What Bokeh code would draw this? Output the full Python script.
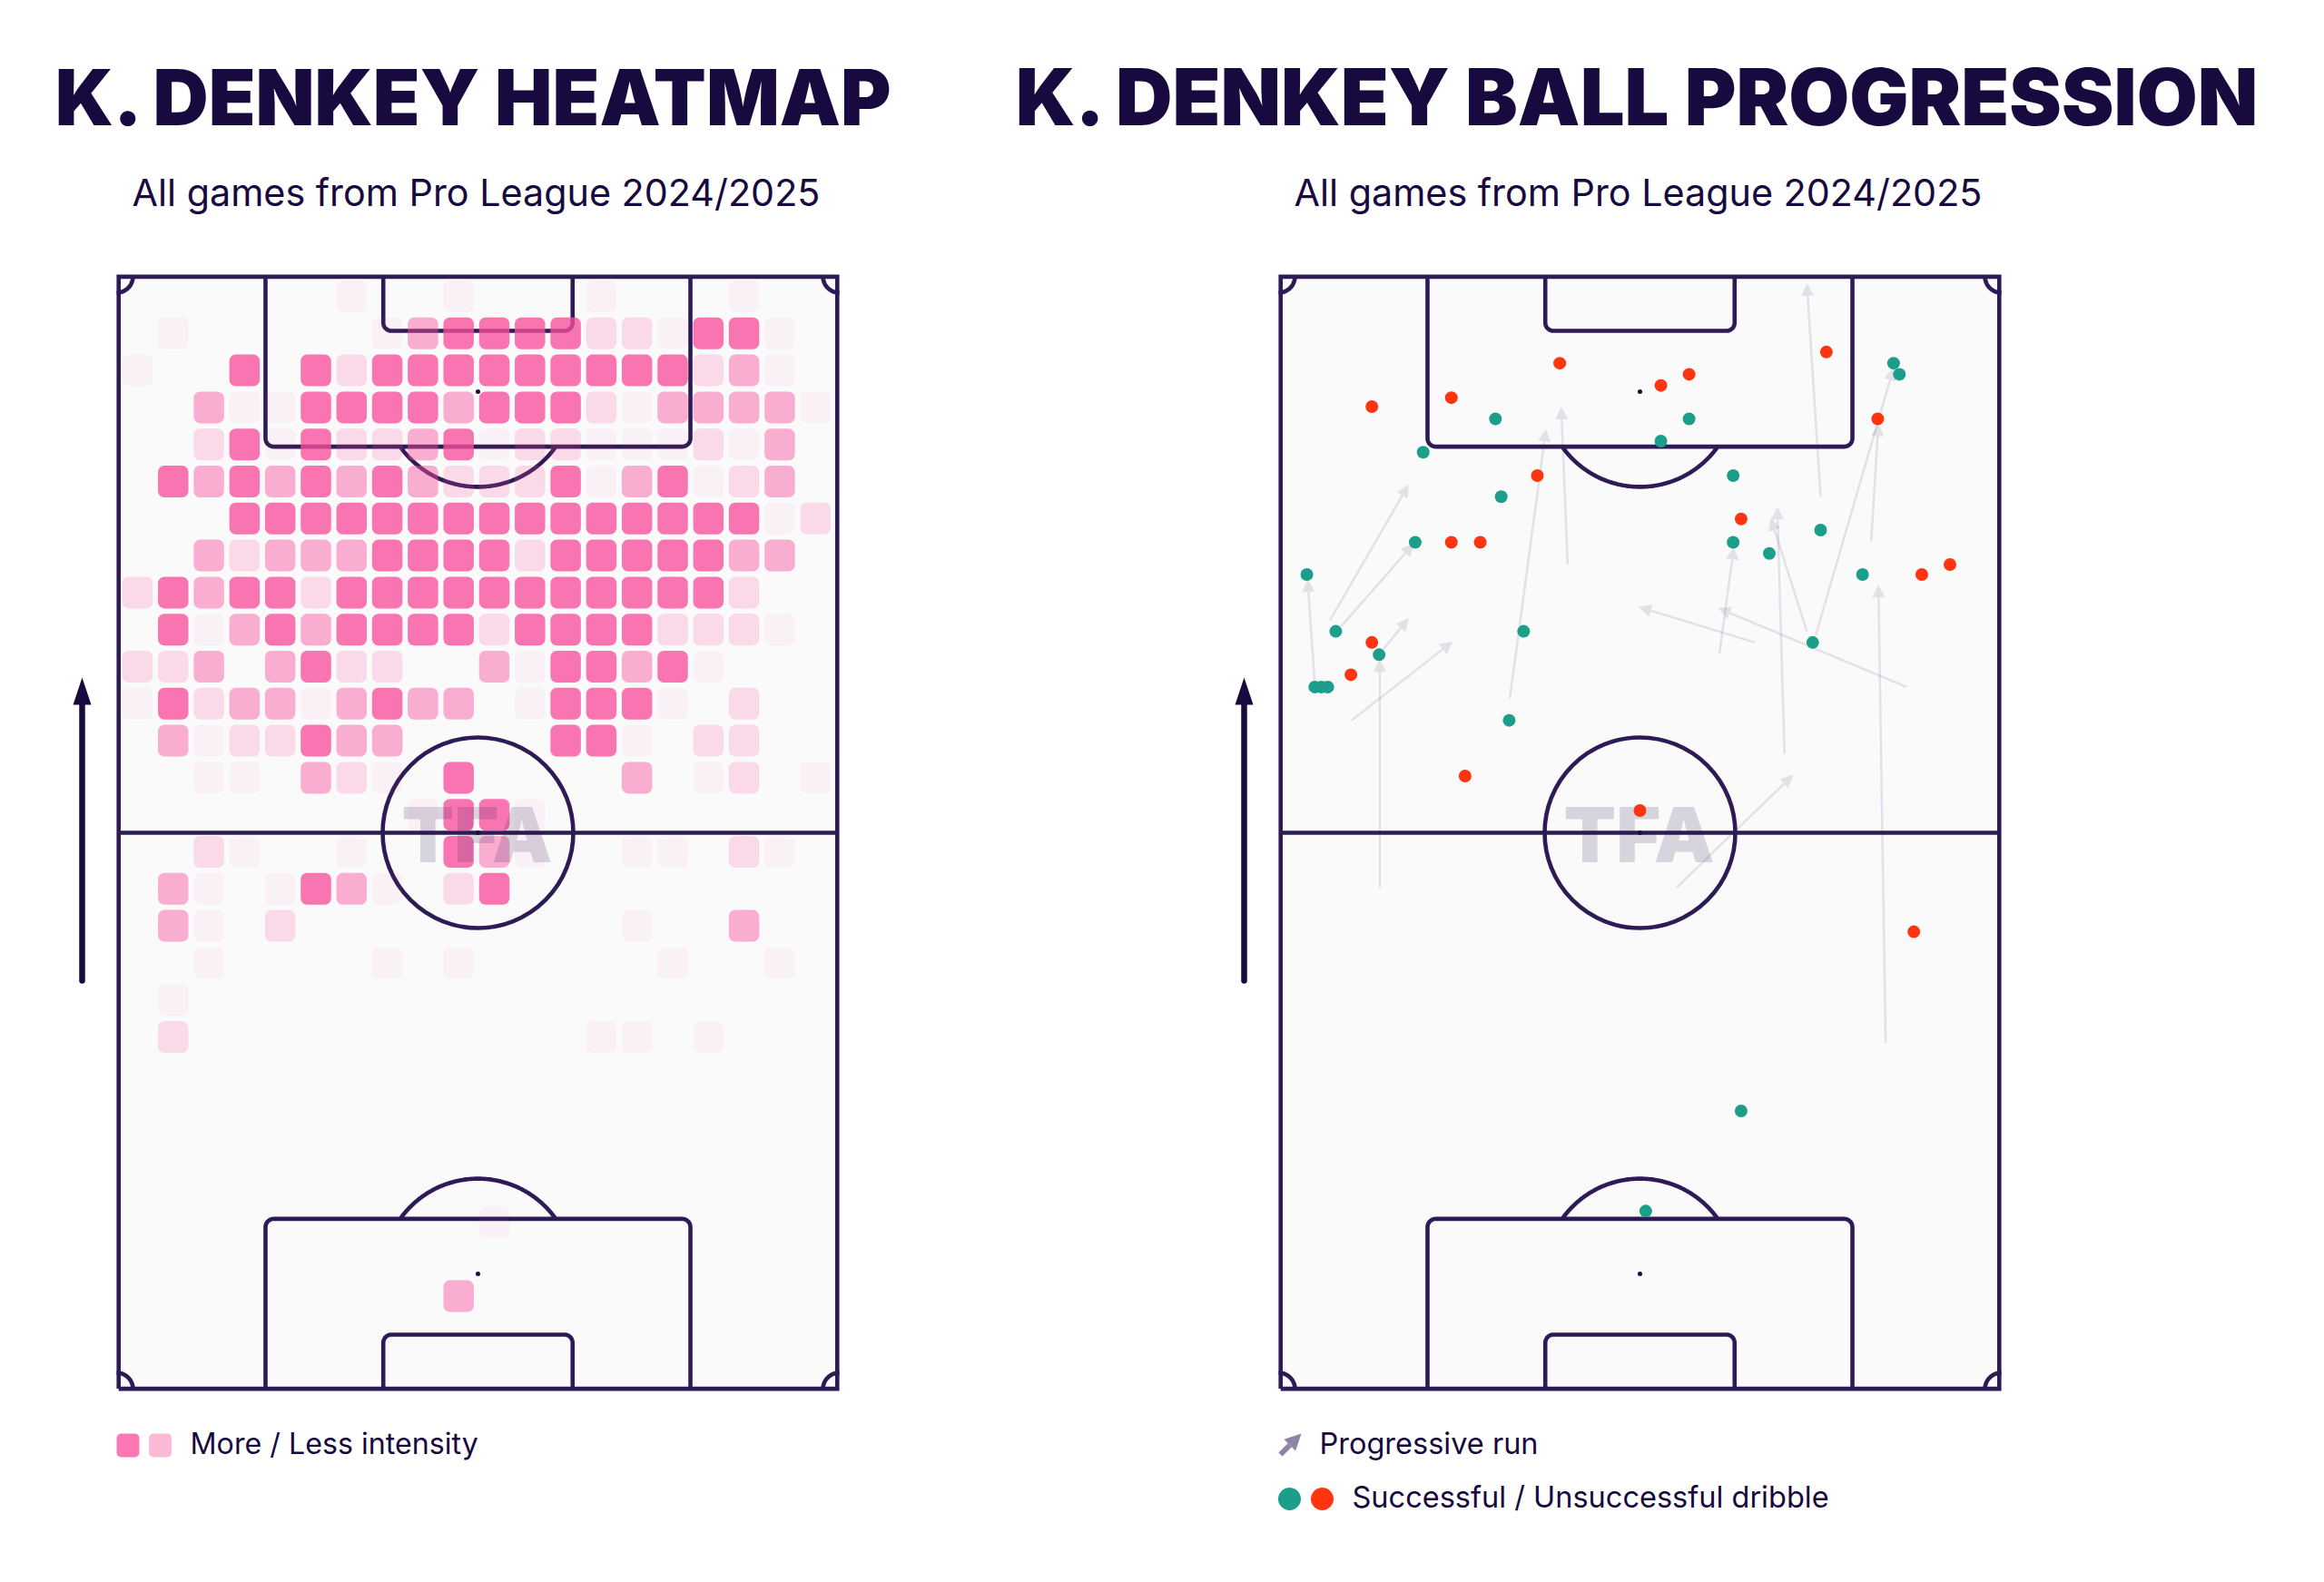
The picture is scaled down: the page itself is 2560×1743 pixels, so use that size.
import numpy as np
from bokeh.core.properties import value
from bokeh.embed import file_html
from bokeh.layouts import row
from bokeh.models import Arrow, ColumnDataSource, NormalHead, Range1d
from bokeh.plotting import figure
from bokeh.resources import INLINE

# ---- data (pitch coordinates, 0-100 both ways, attacking upward)
HEAT_ROWS = [
    "00000010010001000100",
    "01000001344442214410",
    "10040424444444442310",
    "00311444434442133331",
    "00241422341221112130",
    "04343434322241341230",
    "00044444444444444412",
    "00323334444244444330",
    "24344244444444444200",
    "04134344442444422210",
    "22303422003144341000",
    "14233134330144410200",
    "03122433000044102200",
    "00110321040000301201",
    "00000000144100000000",
    "00210010043100110210",
    "03101431024000000000",
    "03102000000000100300",
    "00100001010000010010",
    "01000000000000000000",
    "02000000000001101000",
    "00000000000000000000",
    "00000000000000000000",
    "00000000000000000000",
    "00000000000000000000",
    "00000000001000000000",
    "00000000000000000000",
    "00000000030000000000",
]
good_x = [3.9, 7.9, 13.9, 5.0, 5.9, 6.8, 18.9, 20.0, 30.8, 30.0, 33.9, 31.9, 56.8, 52.9, 62.9, 62.9, 67.9, 75.0, 73.9, 80.8, 85.1, 85.9, 64.0, 50.8]
good_y = [73.2, 68.1, 66.0, 63.1, 63.1, 63.1, 76.1, 84.2, 80.2, 87.2, 68.1, 60.1, 87.2, 85.2, 82.1, 76.1, 75.1, 77.2, 67.1, 73.2, 92.2, 91.2, 25.0, 16.0]
bad_x = [12.9, 23.9, 38.9, 52.9, 56.8, 75.8, 82.9, 35.8, 64.0, 23.9, 27.9, 89.0, 92.9, 12.9, 10.0, 25.8, 50.0, 87.9]
bad_y = [88.3, 89.1, 92.2, 90.2, 91.2, 93.2, 87.2, 82.1, 78.2, 76.1, 76.1, 73.2, 74.1, 67.1, 64.2, 55.1, 52.0, 41.1]
run_x0 = [5.0, 7.1, 8.6, 14.5, 10.1, 14.0, 32.0, 40.0, 75.0, 74.3, 82.0, 73.1, 70.0, 61.0, 65.9, 86.9, 84.0, 55.1]
run_y0 = [63.4, 69.1, 68.5, 66.5, 60.1, 45.1, 62.1, 74.1, 80.2, 67.7, 76.2, 68.1, 57.1, 66.1, 67.1, 63.1, 31.1, 45.1]
run_x1 = [4.0, 18.0, 18.7, 18.0, 24.1, 14.0, 37.0, 39.1, 73.1, 85.1, 83.0, 68.1, 69.0, 63.0, 49.8, 60.8, 83.0, 71.2]
run_y1 = [72.8, 81.3, 76.0, 69.3, 67.2, 65.6, 86.3, 88.3, 99.4, 91.8, 86.8, 78.3, 79.3, 75.7, 70.3, 70.2, 72.3, 55.2]

TITLE_L = "K. DENKEY HEATMAP"
TITLE_R = "K. DENKEY BALL PROGRESSION"
SUBTITLE = "All games from Pro League 2024/2025"
LEGEND_HEAT = "More / Less intensity"
LEGEND_RUN = "Progressive run"
LEGEND_DRIB = "Successful / Unsuccessful dribble"

# ---- style and layout
NAVY = "#2e1a54"
INK = "#180a3e"
PINK = "#f84f9e"
GREEN = "#1b9e8a"
RED = "#ff3410"
PITCH_BG = "#fafafb"
LW = 4.6
ALPHAS = {1: 0.05, 2: 0.19, 3: 0.45, 4: 0.78}
H = 1727
PW, PH = 796.0, 1226.0     # pitch size on the page
PY0 = 304.0                # pitch top on the page
UX, UY = PW / 100, PH / 100
BASE = 0.35                # the svg text sits this many ems below its anchor


def make_fig(page_left, width, pitch_left):
    x0 = (page_left - pitch_left) / UX
    x1 = (page_left + width - pitch_left) / UX
    y_top = (PY0 + PH) / UY
    y_bot = (PY0 + PH - H) / UY
    p = figure(width=width, height=H, x_range=Range1d(x0, x1), y_range=Range1d(y_bot, y_top),
               output_backend="svg", toolbar_location=None, min_border=0,
               background_fill_color="white", border_fill_color="white", outline_line_color=None)
    p.xaxis.visible = False
    p.yaxis.visible = False
    p.grid.visible = False
    return p


def box_path(xl, xr, y_edge, y_inner, r=9.0):
    """U-shaped box with rounded inner corners."""
    rx, ry = r / UX, r / UY
    s = 1 if y_inner > y_edge else -1
    t = np.linspace(0, np.pi / 2, 10)
    left_x = xl + rx * (1 - np.cos(t))
    left_y = y_inner - s * ry * (1 - np.sin(t))
    right_x = xr - rx * (1 - np.cos(t[::-1]))
    right_y = y_inner - s * ry * (1 - np.sin(t[::-1]))
    return ([xl, *left_x, *right_x, xr], [y_edge, *left_y, *right_y, y_edge])


def draw_pitch(p):
    p.quad(left=0, right=100, bottom=0, top=100, fill_color=PITCH_BG, line_color=None, level="image")
    kw = dict(line_color=NAVY, line_width=LW)
    ix, iy = 2.2 / UX, 0.4 / UY   # outline sits just inside the pitch
    p.line([ix, 100 - ix, 100 - ix, ix, ix], [iy, iy, 100 - iy, 100 - iy, iy], line_join="miter", **kw)
    p.line([ix, 100 - ix], [50, 50], **kw)
    r = 105.0
    p.ellipse(x=50, y=50, width=2 * r / UX, height=2 * r / UY, fill_color=None, **kw)
    for edge, s in ((100, -1), (0, 1)):
        p.line(*box_path(20.6, 79.4, edge, edge + s * 15.3), **kw)
        p.line(*box_path(36.9, 63.1, edge, edge + s * 4.9), **kw)
        spot = edge + s * 10.35
        a = np.linspace(0, 2 * np.pi, 361)
        ax = 50 + r / UX * np.cos(a)
        ay = spot + r / UY * np.sin(a)
        keep = (ay * s > (edge + s * 15.3) * s)
        order = np.argsort(ax[keep])
        p.line(ax[keep][order], ay[keep][order], **kw)
        p.ellipse(x=50, y=spot, width=5 / UX, height=5 / UY, fill_color=INK, line_color=None)
    p.ellipse(x=50, y=50, width=5 / UX, height=5 / UY, fill_color=INK, line_color=None)
    c = 18.0
    t = np.linspace(0, np.pi / 2, 20)
    for cx, sx in ((0, 1), (100, -1)):
        for cy, sy in ((0, 1), (100, -1)):
            p.line(cx + sx * c / UX * np.cos(t), cy + sy * c / UY * np.sin(t), line_color=NAVY, line_width=LW)


def put_text(p, x, y, s, font, size, align="left", color=INK, alpha=1.0, style="normal"):
    p.text([x], [y], text=[s], text_font=value(font), text_font_style=style, text_font_size=f"{size}px",
           text_color=color, text_alpha=alpha, text_align=align, text_baseline="alphabetic",
           y_offset=-BASE * size)


def texts(p, pitch_left, title, title_cx, sub_cx, title_size):
    X = lambda px: (px - pitch_left) / UX
    Y = lambda py: (PY0 + PH - py) / UY
    put_text(p, X(title_cx), Y(136), title, "Inter Black", title_size, "center", style="bold")
    put_text(p, X(sub_cx), Y(225.5), SUBTITLE, "Inter", 41.3, "center")
    # attack direction arrow
    ax = pitch_left - 38
    p.line([X(ax), X(ax)], [Y(1080), Y(775)], line_color=INK, line_width=6.5, line_cap="round")
    p.patch([X(ax - 10), X(ax), X(ax + 10)], [Y(776), Y(746), Y(776)], fill_color=INK, line_color=None)
    return X, Y


def watermark(p, X, Y, cx):
    put_text(p, X(cx), Y(948), "TFA", "Inter Black", 84, "center", NAVY, 0.17, "bold")


# ---- left: heatmap
L_PITCH = 128.0
p1 = make_fig(0, 1040, L_PITCH)
draw_pitch(p1)
left, right, top, bottom, alpha = [], [], [], [], []
cw, ch = 33.5 / UX, 35.0 / UY
for r_i, row_s in enumerate(HEAT_ROWS):
    for c_i, lv in enumerate(row_s):
        lv = int(lv)
        if lv == 0:
            continue
        cx = (23.0 + 39.3 * c_i) / UX
        cy = (PH - 22.0 - 40.8 * r_i) / UY
        left.append(cx - cw / 2); right.append(cx + cw / 2)
        bottom.append(cy - ch / 2); top.append(cy + ch / 2)
        alpha.append(ALPHAS[lv])
p1.quad(left=left, right=right, bottom=bottom, top=top, fill_color=PINK, fill_alpha=alpha,
        line_color=None, border_radius=7)
X, Y = texts(p1, L_PITCH, TITLE_L, 523, 524, 84.6)
watermark(p1, X, Y, 525)
p1.quad(left=[X(128)], right=[X(153)], top=[Y(1579)], bottom=[Y(1605)], fill_color="#fc78b4", line_color=None, border_radius=5)
p1.quad(left=[X(163.5)], right=[X(188.5)], top=[Y(1579)], bottom=[Y(1605)], fill_color="#fdb9d8", line_color=None, border_radius=5)
put_text(p1, X(209), Y(1601), LEGEND_HEAT, "Inter", 32.2)

# ---- right: progression
R_PITCH = 1408.0
p2 = make_fig(1040, 1504, R_PITCH)
draw_pitch(p2)
run_src = ColumnDataSource(dict(x0=run_x0, y0=run_y0, x1=run_x1, y1=run_y1))
p2.add_layout(Arrow(x_start="x0", y_start="y0", x_end="x1", y_end="y1", source=run_src,
                    line_color=NAVY, line_alpha=0.11, line_width=2.5, level="underlay",
                    end=NormalHead(size=14, fill_color=NAVY, fill_alpha=0.11, line_color=None, line_alpha=0)))
X, Y = texts(p2, R_PITCH, TITLE_R, 1805, 1804, 86.5)
watermark(p2, X, Y, 1805)
p2.scatter(good_x, good_y, size=14, marker="circle", fill_color=GREEN, line_color=None)
p2.scatter(bad_x, bad_y, size=14, marker="circle", fill_color=RED, line_color=None)
p2.add_layout(Arrow(x_start=X(1410), y_start=Y(1602), x_end=X(1433), y_end=Y(1579),
                    line_color="#8f84a6", line_width=6,
                    end=NormalHead(size=18, fill_color="#8f84a6", line_color=None, line_alpha=0)))
put_text(p2, X(1453), Y(1601), LEGEND_RUN, "Inter", 32.5)
p2.scatter([X(1420)], [Y(1651)], size=25, marker="circle", fill_color=GREEN, line_color=None)
p2.scatter([X(1456)], [Y(1651)], size=25, marker="circle", fill_color=RED, line_color=None)
put_text(p2, X(1489), Y(1660), LEGEND_DRIB, "Inter", 32.5)

layout = row(p1, p2, spacing=0)
open("out.html", "w").write(file_html(layout, INLINE))
